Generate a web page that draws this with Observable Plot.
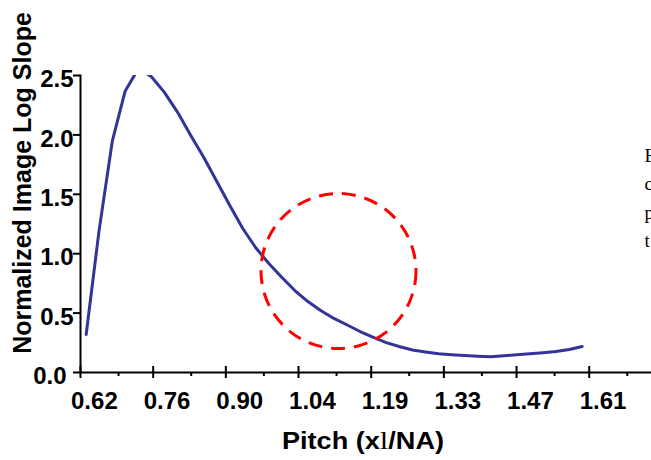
<!DOCTYPE html>
<html><head><meta charset="utf-8">
<script src="https://cdn.jsdelivr.net/npm/d3@7"></script>
<script src="https://cdn.jsdelivr.net/npm/@observablehq/plot@0.6"></script>
<style>
html,body{margin:0;padding:0;background:#fff;}
#chart{width:651px;height:460px;overflow:hidden;}
</style></head><body><div id="chart"></div>
<script>
// Pitch (lambda/NA) of each computed point
const pitch = [0.604,0.629,0.655,0.680,0.706,0.731,0.756,0.782,0.807,0.833,
  0.858,0.883,0.909,0.934,0.959,0.985,1.010,1.036,1.061,1.086,
  1.112,1.137,1.163,1.188,1.213,1.239,1.264,1.290,1.315,1.340,
  1.366,1.391,1.417,1.442,1.467,1.493,1.518,1.544,1.569];
// Normalized image log slope
const nils = [0.32,1.19,1.95,2.37,2.56,2.49,2.36,2.19,2.00,1.81,
  1.61,1.41,1.21,1.05,0.92,0.80,0.69,0.595,0.52,0.455,
  0.40,0.345,0.295,0.252,0.219,0.19,0.173,0.157,0.149,0.143,
  0.137,0.132,0.14,0.15,0.158,0.167,0.177,0.194,0.219];
const xTickLabels = ["0.62","0.76","0.90","1.04","1.19","1.33","1.47","1.61"];
const xTickValues = [0.62,0.7614,0.9028,1.0442,1.1856,1.327,1.4684,1.6098];
const yTickValues = [0,0.5,1,1.5,2,2.5];
const circleX = [1.095];
const circleY = [0.854];
const xTitle = "Pitch (xl/NA)";
const yTitle = "Normalized Image Log Slope";
const sideText = "E\nc\np\nt";

const data = pitch.map((p, i) => ({pitch: p, nils: nils[i]}));
const circle = circleX.map((cx, i) => ({x: cx, y: circleY[i]}));
const xDomain = [0.593, 1.704];
const pxPerY = 297 / 2.5;
const majorTicks = xTickValues.map(v => v - 0.027).concat([xTickValues[7] + 0.1414 - 0.027]);
const minorTicks = xTickValues.map(v => v + 0.047).concat([xTickValues[7] + 0.1414 + 0.047]);

const font = "'Liberation Sans', Arial, Helvetica, sans-serif";
const chart = Plot.plot({
  width: 651, height: 460,
  marginLeft: 80, marginRight: 0, marginTop: 75, marginBottom: 88,
  x: {domain: xDomain},
  y: {domain: [0, 2.5]},
  style: {fontFamily: font, fontWeight: "bold", color: "#000", background: "#fff", overflow: "hidden"},
  marks: [
    Plot.axisX({ticks: [], tickSize: 0, label: null}),
    Plot.axisY({ticks: yTickValues, tickSize: 7, tickFormat: () => "", label: null, strokeWidth: 2}),
    Plot.frame({anchor: "left", stroke: "#000", strokeWidth: 2}),
    Plot.ruleY([0], {stroke: "#000", strokeWidth: 2}),
    Plot.ruleX(majorTicks, {x: d => d, y1: -6 / pxPerY, y2: 6 / pxPerY, stroke: "#000", strokeWidth: 2}),
    Plot.ruleX(minorTicks, {x: d => d, y1: -4 / pxPerY, y2: 0, stroke: "#000", strokeWidth: 2}),
    Plot.text(yTickValues.filter(d => d > 0), {x: xDomain[0], y: d => d, text: d => d.toFixed(1), textAnchor: "end", dx: -7, dy: 4, fontSize: 24, fontWeight: "bold", fill: "#000"}),
    Plot.text(yTickValues.filter(d => d === 0), {x: xDomain[0], y: d => d, text: d => d.toFixed(1), textAnchor: "end", dx: -14, dy: 4, fontSize: 24, fontWeight: "bold", fill: "#000"}),
    Plot.text(xTickValues, {x: d => d, frameAnchor: "bottom", text: (d, i) => xTickLabels[i], dy: 36, fontSize: 24, fontWeight: "bold", fill: "#000"}),
    Plot.text([xTitle], {frameAnchor: "bottom", text: d => d, dx: -3, dy: 76, fontSize: 23, fontWeight: "bold", fill: "#000"}),
    Plot.text([yTitle], {frameAnchor: "left", text: d => d, rotate: -90, textAnchor: "middle", dx: -58, dy: -41, fontSize: 25, fontWeight: "bold", fill: "#000"}),
    Plot.text([sideText], {frameAnchor: "top-right", text: d => d, textAnchor: "start", lineAnchor: "top", dx: -7, dy: 66, fontSize: 19, lineHeight: 1.5, fontWeight: "normal", fontFamily: "'Liberation Serif', 'Times New Roman', serif", fill: "#000"}),
    Plot.line(data, {x: "pitch", y: "nils", stroke: "#333399", strokeWidth: 3, clip: true}),
    Plot.dot(circle, {x: "x", y: "y", r: 77.5, stroke: "#ff0000", strokeWidth: 3, strokeDasharray: "14,9", fill: "none"})
  ]
});
document.getElementById("chart").appendChild(chart);
// render the symbol-font glyph in the title as a serif character, stretched like the original
d3.select(chart).selectAll("text").each(function() {
  if (this.textContent === xTitle) {
    const t = d3.select(this);
    t.text(null);
    t.attr("textLength", 162).attr("lengthAdjust", "spacingAndGlyphs");
    t.append("tspan").text("Pitch (x");
    t.append("tspan").attr("font-family", "'Liberation Serif', serif").attr("font-weight", "normal").attr("font-size", 26).text("l");
    t.append("tspan").text("/NA)");
  }
});
</script></body></html>
